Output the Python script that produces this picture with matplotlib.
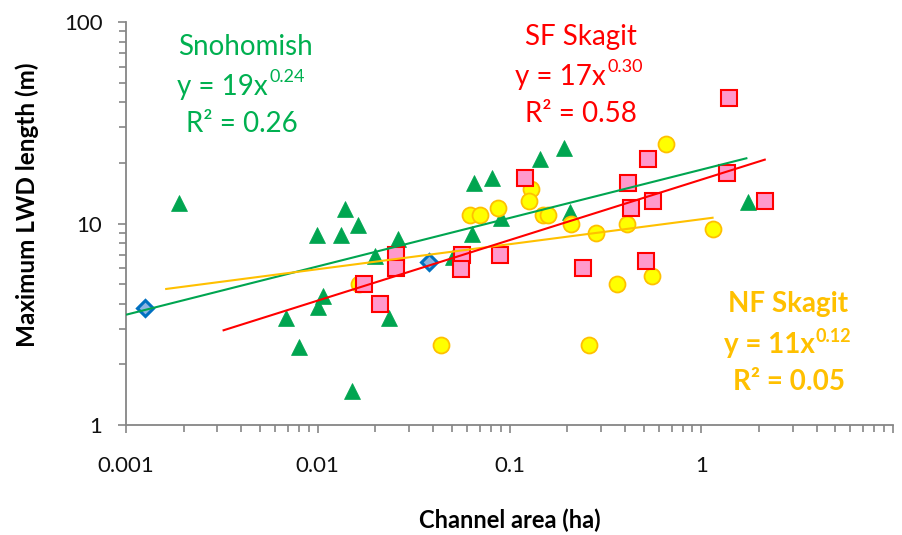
import numpy as np
import matplotlib
matplotlib.use('Agg')
import matplotlib.pyplot as plt
from matplotlib.ticker import FixedLocator, LogLocator, NullFormatter

plt.rcParams['font.family'] = ['Lato', 'DejaVu Sans']

# ---- data ----
sno_x = [0.0019, 0.0068, 0.0080, 0.0099, 0.0100, 0.0107, 0.0138, 0.0133, 0.0162,
         0.0150, 0.0200, 0.0262, 0.0234, 0.065, 0.081, 0.1445, 0.192, 0.0636,
         0.0905, 0.207, 0.0507, 1.75]
sno_y = [12.7, 3.41, 2.45, 8.8, 3.87, 4.38, 11.8, 8.8, 9.8,
         1.48, 6.9, 8.35, 3.41, 15.8, 16.9, 20.8, 23.8, 8.87,
         10.6, 11.4, 6.85, 12.8]

sf_x = [0.0257, 0.0257, 0.0174, 0.021, 0.120, 0.0567, 0.0556, 0.0895, 0.243,
        0.525, 0.415, 0.432, 0.557, 0.515, 1.355, 1.40, 2.15]
sf_y = [6.98, 6.0, 4.99, 3.99, 16.9, 6.98, 5.97, 6.98, 6.0,
        20.8, 15.9, 11.9, 12.9, 6.49, 17.9, 41.8, 12.9]

nf_x = [0.130, 0.127, 0.0624, 0.0703, 0.0869, 0.150, 0.158, 0.21, 0.281,
        0.408, 1.155, 0.365, 0.551, 0.0437, 0.261, 0.658, 0.0165]
nf_y = [14.8, 12.9, 11.0, 11.0, 11.9, 11.0, 11.0, 9.94, 9.0,
        9.9, 9.43, 4.99, 5.49, 2.49, 2.49, 24.8, 5.0]

other_x = [0.00126, 0.038]
other_y = [3.8, 6.46]

# power-law trendlines: coefficient, exponent, x-start, x-end
sno_fit = [18.5, 0.240, 0.001, 1.74]
sf_fit = [16.5, 0.300, 0.00319, 2.17]
nf_fit = [10.5, 0.124, 0.0016, 1.16]

x_ticks = [0.001, 0.01, 0.1, 1, 10]
x_tick_labels = ['0.001', '0.01', '0.1', '1', '']
y_ticks = [1, 10, 100]
y_tick_labels = ['1', '10', '100']

GREEN_M = '#00A550'
GREEN_T = '#00B050'
RED = '#FF0000'
GOLD = '#FFC000'
AXC = '#868686'

W, H = 902, 535
fig = plt.figure(figsize=(W / 100, H / 100), dpi=100)
ax = fig.add_axes([126 / W, 1 - 425 / H, 767 / W, 403 / H])

ax.set_xscale('log')
ax.set_yscale('log')
ax.set_xlim(0.001, 10)
ax.set_ylim(1, 100)

ax.plot(sno_x, sno_y, linestyle='none', marker='^', markersize=12,
        markerfacecolor=GREEN_M, markeredgecolor=GREEN_M, markeredgewidth=0.5, zorder=3)
ax.plot(nf_x, nf_y, linestyle='none', marker='o', markersize=11.5,
        markerfacecolor='#FFFF00', markeredgecolor=GOLD, markeredgewidth=1.3, zorder=4)
ax.plot(sf_x, sf_y, linestyle='none', marker='s', markersize=11,
        markerfacecolor='#FF99CC', markeredgecolor=RED, markeredgewidth=1.5, zorder=5)
ax.plot(other_x, other_y, linestyle='none', marker='D', markersize=8.5,
        markerfacecolor='#8DB4E2', markeredgecolor='#0070C0', markeredgewidth=2.2, zorder=6)

for fit, col in [(sno_fit, GREEN_M), (nf_fit, GOLD), (sf_fit, RED)]:
    a, b, x0, x1 = fit
    xs = np.logspace(np.log10(x0), np.log10(x1), 50)
    ax.plot(xs, a * xs ** b, color=col, linewidth=1.5, zorder=7, solid_capstyle='butt')

for s in ['top', 'right']:
    ax.spines[s].set_visible(False)
for s in ['left', 'bottom']:
    ax.spines[s].set_color(AXC)
    ax.spines[s].set_linewidth(1.3)

ax.xaxis.set_major_locator(FixedLocator(x_ticks))
ax.set_xticklabels(x_tick_labels)
ax.yaxis.set_major_locator(FixedLocator(y_ticks))
ax.set_yticklabels(y_tick_labels)
ax.xaxis.set_minor_locator(LogLocator(base=10, subs=np.arange(2, 10), numticks=20))
ax.yaxis.set_minor_locator(LogLocator(base=10, subs=np.arange(2, 10), numticks=20))
ax.xaxis.set_minor_formatter(NullFormatter())
ax.yaxis.set_minor_formatter(NullFormatter())
ax.tick_params(which='both', direction='out', color=AXC, width=1.2, labelsize=16,
               labelcolor='#111111')
ax.tick_params(which='major', length=6)
ax.tick_params(which='minor', length=5)
ax.tick_params(axis='x', which='major', pad=16)
ax.tick_params(axis='y', which='major', pad=11)


def ftext(x, y, s, **kw):
    fig.text(x / W, 1 - y / H, s, **kw)


ftext(510, 520, 'Channel area (ha)', ha='center', va='center', fontsize=17,
      fontweight='bold')
ftext(27, 205, 'Maximum LWD length (m)', ha='center', va='center', fontsize=17.5,
      fontweight='bold', rotation=90)

# annotations
ftext(245, 55, 'Snohomish', ha='center', va='baseline', fontsize=20, color=GREEN_T)
ftext(268, 95, 'y = 19x', ha='right', va='baseline', fontsize=20, color=GREEN_T)
ftext(269, 82.5, '0.24', ha='left', va='baseline', fontsize=13, color=GREEN_T)
ftext(242, 131.5, 'R\u00b2 = 0.26', ha='center', va='baseline', fontsize=20, color=GREEN_T)

ftext(581, 45, 'SF Skagit', ha='center', va='baseline', fontsize=20, color=RED)
ftext(606, 85, 'y = 17x', ha='right', va='baseline', fontsize=20, color=RED)
ftext(607, 72.5, '0.30', ha='left', va='baseline', fontsize=13, color=RED)
ftext(581, 121.5, 'R\u00b2 = 0.58', ha='center', va='baseline', fontsize=20, color=RED)

ftext(788, 312, 'NF Skagit', ha='center', va='baseline', fontsize=20, color=GOLD,
      fontweight='bold')
ftext(815, 353, 'y = 11x', ha='right', va='baseline', fontsize=20, color=GOLD,
      fontweight='bold')
ftext(815, 341.5, '0.12', ha='left', va='baseline', fontsize=13, color=GOLD,
      fontweight='bold')
ftext(789, 390, 'R\u00b2 = 0.05', ha='center', va='baseline', fontsize=20, color=GOLD,
      fontweight='bold')

fig.savefig('out.png', dpi=100)
